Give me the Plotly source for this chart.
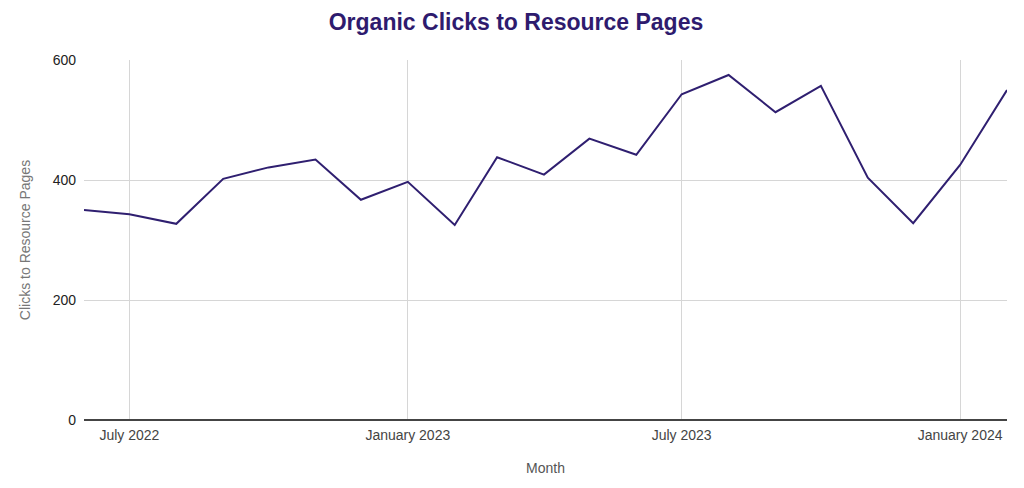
import plotly.graph_objects as go

months = ["2022-06-01", "2022-07-01", "2022-08-01", "2022-09-01", "2022-10-01", "2022-11-01",
          "2022-12-01", "2023-01-01", "2023-02-01", "2023-03-01", "2023-04-01", "2023-05-01",
          "2023-06-01", "2023-07-01", "2023-08-01", "2023-09-01", "2023-10-01", "2023-11-01",
          "2023-12-01", "2024-01-01", "2024-02-01"]
clicks = [350, 343, 327, 402, 421, 434, 367, 397, 325, 438, 409, 469,
          442, 543, 575, 513, 557, 404, 328, 425, 550]
tick_vals = ["2022-07-01", "2023-01-01", "2023-07-01", "2024-01-01"]
tick_text = ["July 2022", "January 2023", "July 2023", "January 2024"]
y_ticks = [0, 200, 400, 600]

fig = go.Figure()
fig.add_trace(go.Scatter(x=months, y=clicks, mode="lines",
                         line=dict(color="#2f1f70", width=2), showlegend=False))

# page body has an 8px margin, so offset the figure accordingly
fig.update_layout(
    width=1016, height=480,
    margin=dict(l=76, r=17, t=52, b=68),
    paper_bgcolor="white", plot_bgcolor="white",
    font=dict(family="Liberation Sans, Arial, sans-serif", size=14, color="#222222"),
    title=dict(text="<b>Organic Clicks to Resource Pages</b>", x=0.5, xanchor="center",
               y=0.971, yref="container", yanchor="middle",
               font=dict(size=23, color="#2e1b6e", family="Liberation Sans, Arial, sans-serif")),
    xaxis=dict(type="date", range=["2022-06-01", "2024-02-01"],
               tickvals=tick_vals, ticktext=tick_text,
               showgrid=True, gridcolor="#d6d6d6", gridwidth=1,
               zeroline=False, showline=False, ticks="", ticklabelstandoff=5,
               tickfont=dict(size=14, color="#444444"),
               title=dict(text="Month", font=dict(size=14, color="#555555"), standoff=21)),
    yaxis=dict(range=[0, 600], tickvals=y_ticks,
               showgrid=True, gridcolor="#d6d6d6", gridwidth=1,
               zeroline=True, zerolinecolor="#444444", zerolinewidth=1.5,
               showline=False, ticks="", ticklabelstandoff=7,
               tickfont=dict(size=14, color="#222222"),
               title=dict(text="Clicks to Resource Pages", font=dict(size=14, color="#777777"), standoff=18)),
)

fig.write_html("out.html")
